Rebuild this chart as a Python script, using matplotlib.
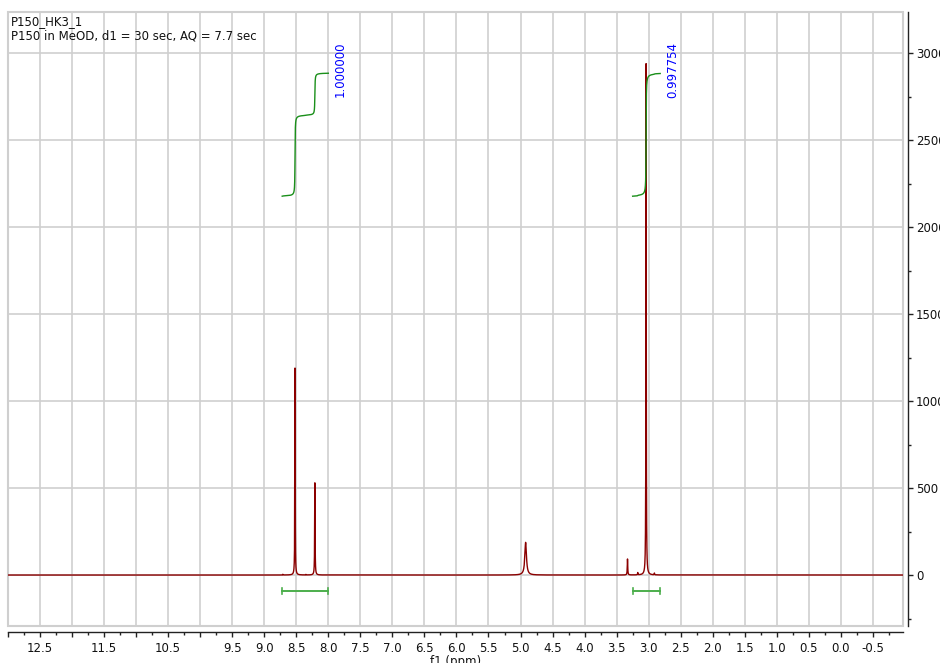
import numpy as np
import matplotlib.pyplot as plt
from matplotlib.patches import Rectangle
from matplotlib.ticker import FixedLocator, MultipleLocator

# 1H spectrum of P150 in MeOD: peak list (ppm, height, FWHM in ppm)
peak_ppm = [8.71, 8.52, 8.35, 8.21, 4.92, 3.33, 3.17, 3.04, 2.91]
peak_height = [4, 1190, 3, 530, 188, 92, 13, 2940, 10]
peak_fwhm = [0.006, 0.006, 0.006, 0.007, 0.03, 0.008, 0.006, 0.006, 0.006]

# integration regions (ppm from, ppm to) and their normalised values
integral_from = [8.72, 3.25]
integral_to = [8.00, 2.82]
integral_value = [1.000000, 0.997754]

x_ticks = [12.5, 12.0, 11.5, 11.0, 10.5, 10.0, 9.5, 9.0, 8.5, 8.0, 7.5, 7.0, 6.5,
           6.0, 5.5, 5.0, 4.5, 4.0, 3.5, 3.0, 2.5, 2.0, 1.5, 1.0, 0.5, 0.0, -0.5]
x_tick_labels = ['12.5', '', '11.5', '', '10.5', '', '9.5', '9.0', '8.5', '8.0', '7.5',
                 '7.0', '6.5', '6.0', '5.5', '5.0', '4.5', '4.0', '3.5', '3.0', '2.5',
                 '2.0', '1.5', '1.0', '0.5', '0.0', '-0.5']
y_ticks = [0, 500, 1000, 1500, 2000, 2500, 3000]

title_lines = ['P150_HK3_1', 'P150 in MeOD, d1 = 30 sec, AQ = 7.7 sec']

ppm = np.linspace(-1.0, 13.0, 28001)


def lorentz(x, x0, h, fwhm):
    g = fwhm / 2
    return h * g ** 2 / ((x - x0) ** 2 + g ** 2)


spec = np.zeros_like(ppm)
for p, h, w in zip(peak_ppm, peak_height, peak_fwhm):
    spec += lorentz(ppm, p, h, w)

grid_col = '#cfcfcf'
spec_col = '#8b0000'
int_col = '#1a8f1a'
bracket_col = '#4cae4c'

fig = plt.figure(figsize=(9.4, 6.63), dpi=100)
ax = fig.add_axes([8 / 940, 1 - 626 / 663, (903 - 8) / 940, (626 - 12) / 663])

ax.plot(ppm, spec, color=spec_col, lw=1.0, zorder=3)

# integral curves, drawn above the peaks with a common base and rise scale
int_base = 2178
int_rise = 707
for a, b, val in zip(integral_from, integral_to, integral_value):
    m = (ppm <= a) & (ppm >= b)
    xs = ppm[m][::-1]
    ys = spec[m][::-1]
    cum = np.cumsum(ys)
    cum = cum / cum[-1]
    ax.plot(xs, int_base + int_rise * val * cum, color=int_col, lw=1.0, zorder=4)
    ax.text(b - 0.19, 3065, f'{val:.6f}', rotation=90, color='blue',
            fontsize=8.5, ha='center', va='top', zorder=5)
    # region bracket under the baseline
    ax.plot([a, b], [-92, -92], color=bracket_col, lw=1.4, zorder=4)
    ax.plot([a, a], [-110, -74], color=bracket_col, lw=1.2, zorder=4)
    ax.plot([b, b], [-110, -74], color=bracket_col, lw=1.2, zorder=4)

ax.set_xlim(13.0, -0.97)
ax.set_ylim(-293, 3237)

ax.xaxis.set_major_locator(FixedLocator(x_ticks + [13.0]))
ax.set_xticklabels(x_tick_labels + [''])
ax.xaxis.set_minor_locator(MultipleLocator(0.25))
ax.yaxis.tick_right()
ax.yaxis.set_major_locator(FixedLocator(y_ticks))
ax.yaxis.set_minor_locator(MultipleLocator(250))

ax.grid(True, which='major', color=grid_col, lw=1.2)
ax.set_axisbelow(True)

for s in ['left', 'top']:
    ax.spines[s].set_visible(False)
ax.spines['bottom'].set_position(('outward', 4))
ax.spines['right'].set_position(('outward', 3.6))
for s in ['bottom', 'right']:
    ax.spines[s].set_color('#222222')
    ax.spines[s].set_linewidth(1.0)

ax.add_patch(Rectangle((0, 0), 1, 1, transform=ax.transAxes, fill=False,
                       ec=grid_col, lw=1.5, clip_on=False, zorder=1))

ax.tick_params(axis='both', which='major', direction='out', length=3.8,
               width=1.0, color='#222222', labelsize=8.5, labelcolor='#111111')
ax.tick_params(axis='both', which='minor', direction='out', length=2.2,
               width=1.0, color='#222222')
ax.tick_params(axis='x', which='major', pad=4)
ax.tick_params(axis='y', which='major', pad=2)

ax.set_xlabel('f1 (ppm)', fontsize=8.5, labelpad=0, color='#111111')

fig.text(11 / 940, 1 - 15 / 663, '\n'.join(title_lines), fontsize=8.5,
         va='top', ha='left', color='#111111', linespacing=1.15)

fig.savefig('out.png', dpi=100)
